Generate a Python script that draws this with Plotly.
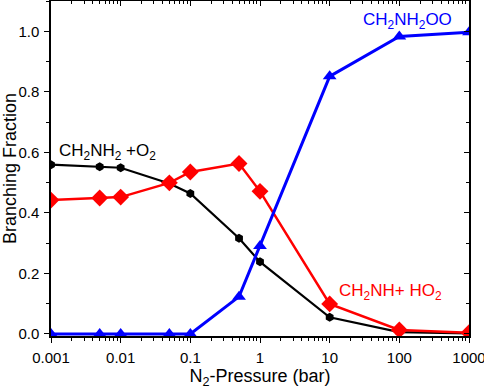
import plotly.graph_objects as go

pressure = [0.001, 0.005, 0.01, 0.05, 0.1, 0.5, 1, 10, 100, 1000]
ch2nh2_o2 = [0.559, 0.552, 0.549, 0.497, 0.464, 0.316, 0.238, 0.055, 0.006, 0.002]
ch2nh_ho2 = [0.442, 0.449, 0.452, 0.499, 0.535, 0.563, 0.471, 0.099, 0.013, 0.004]
ch2nh2oo = [0.0, 0.0, 0.0, 0.0, 0.0, 0.123, 0.29, 0.851, 0.983, 0.997]

xtick_vals = [0.001, 0.01, 0.1, 1, 10, 100, 1000]
xtick_text = ["0.001", "0.01", "0.1", "1", "10", "100", "1000"]
ytick_vals = [0.0, 0.2, 0.4, 0.6, 0.8, 1.0]

FONT = "Liberation Sans, Arial, sans-serif"
xr = [-3, 3]
yr = [-0.007, 1.1]

fig = go.Figure()
fig.add_trace(go.Scatter(x=pressure, y=ch2nh2_o2, mode="lines+markers",
                         line=dict(color="black", width=2.2),
                         marker=dict(symbol="hexagon", size=9, color="black"),
                         showlegend=False))
fig.add_trace(go.Scatter(x=pressure, y=ch2nh_ho2, mode="lines+markers",
                         line=dict(color="#ff0000", width=2.5),
                         marker=dict(symbol="diamond", size=13, color="#ff0000"),
                         showlegend=False))
fig.add_trace(go.Scatter(x=pressure, y=ch2nh2oo, mode="lines+markers",
                         line=dict(color="#0000ff", width=3),
                         marker=dict(symbol="triangle-up", size=12, color="#0000ff"),
                         showlegend=False))
# invisible trace to anchor the mirror axes
fig.add_trace(go.Scatter(x=[pressure[0]], y=[ch2nh2oo[0]], xaxis="x2", yaxis="y2",
                         mode="markers", marker=dict(opacity=0), showlegend=False,
                         hoverinfo="skip"))

fig.add_annotation(x=-2.19, y=0.60, xref="x", yref="y", text="CH<sub>2</sub>NH<sub>2</sub> +O<sub>2</sub>",
                   showarrow=False, font=dict(family=FONT, size=17, color="black"))
fig.add_annotation(x=2.11, y=1.035, xref="x", yref="y", text="CH<sub>2</sub>NH<sub>2</sub>OO",
                   showarrow=False, font=dict(family=FONT, size=17, color="#0000ff"))
fig.add_annotation(x=1.88, y=0.138, xref="x", yref="y", text="CH<sub>2</sub>NH+ HO<sub>2</sub>",
                   showarrow=False, font=dict(family=FONT, size=17, color="#ff0000"))

axis_common = dict(showline=True, linecolor="black", linewidth=1.5, showgrid=False,
                   zeroline=False, automargin=False)

fig.update_layout(
    width=484, height=391,
    margin=dict(l=51, r=15, t=1, b=55),
    paper_bgcolor="white", plot_bgcolor="white",
    font=dict(family=FONT, size=15, color="black"),
    xaxis=dict(type="log", range=xr, tickvals=xtick_vals, ticktext=xtick_text,
               ticks="outside", ticklen=5, tickwidth=1.2, tickcolor="black",
               minor=dict(ticks="outside", ticklen=3, tickwidth=1, tickcolor="black", dtick="D1"),
               title=dict(text="N<sub>2</sub>-Pressure (bar)", font=dict(size=18), standoff=5),
               tickfont=dict(size=15), ticklabelstandoff=2, ticklabeloverflow="allow",
               **axis_common),
    yaxis=dict(range=yr, tickvals=ytick_vals, tickformat=".1f",
               ticks="outside", ticklen=5, tickwidth=1.2, tickcolor="black",
               minor=dict(ticks="outside", ticklen=3, tickwidth=1, tickcolor="black", dtick=0.1, tick0=0),
               title=dict(text="Branching Fraction", font=dict(size=18), standoff=3),
               tickfont=dict(size=15), ticklabelstandoff=2, **axis_common),
    xaxis2=dict(type="log", range=xr, overlaying="x", side="top", anchor="y2",
                tickvals=xtick_vals, showticklabels=False,
                ticks="inside", ticklen=5, tickwidth=1.2, tickcolor="black",
                minor=dict(ticks="inside", ticklen=3, tickwidth=1, tickcolor="black", dtick="D1"),
                **axis_common),
    yaxis2=dict(range=yr, overlaying="y", side="right", anchor="x2",
                tickvals=ytick_vals, showticklabels=False,
                ticks="inside", ticklen=5, tickwidth=1.2, tickcolor="black",
                minor=dict(ticks="inside", ticklen=3, tickwidth=1, tickcolor="black", dtick=0.1, tick0=0),
                **axis_common),
)

fig.write_html("out.html", config={"displayModeBar": False},
               post_script="document.body.style.margin='0px';")
